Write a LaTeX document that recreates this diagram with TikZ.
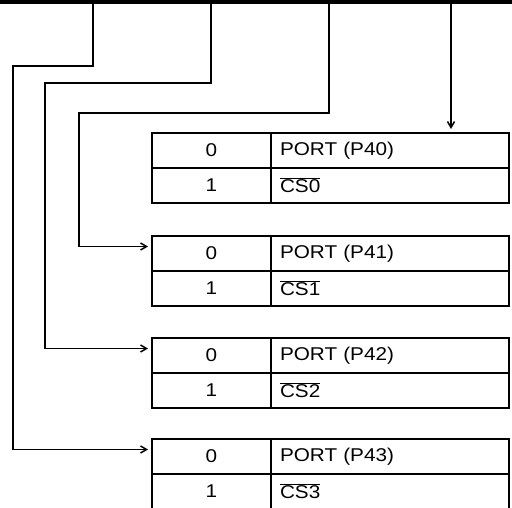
\documentclass[tikz,border=0pt]{standalone}
\usepackage{fontspec}
\setmainfont[FakeStretch=1.12]{Liberation Sans}
\usetikzlibrary{arrows.meta,positioning}

\begin{document}
\begin{tikzpicture}[
  x=1pt, y=-1pt,
  font=\fontsize{18.5}{22}\selectfont,
  numcell/.style={
    draw, line width=2.3pt, outer sep=0pt,
    minimum width=119pt, minimum height=35pt,
    inner sep=0pt},
  sigcell/.style={
    draw, line width=2.3pt, outer sep=0pt,
    minimum width=238pt, minimum height=35pt,
    inner xsep=9pt, inner ysep=0pt,
    text width=220pt, align=left},
  arrow/.style={
    -{Straight Barb[length=6pt,width=7pt]},
    line width=1.5pt, shorten >=4pt}
]
\useasboundingbox (0,0) rectangle (512,507);

% bus bar
\fill (0,0) rectangle (512,4);
\coordinate (t0) at (93,2);
\coordinate (t1) at (211,2);
\coordinate (t2) at (329,2);
\coordinate (t3) at (451,2);

% tables
\foreach \i/\y in {0/133, 1/236, 2/338, 3/439}{
  \node[numcell, anchor=north west] (z\i) at (152,\y) {0};
  \node[numcell, anchor=north] (o\i) at (z\i.south) {1};
  \node[sigcell, anchor=west] (p\i) at (z\i.east) {PORT (P4\i)};
  \node[sigcell, anchor=west] (c\i) at (o\i.east)
    {$\overline{\mbox{CS\i}}$};
}

% connectors
\draw[arrow] (t3) -- (t3 |- z0.north);
\draw[arrow] (t2) |- (79,113) |- ([yshift=7pt]z1.west);
\draw[arrow] (t1) |- (45,83) |- ([yshift=7pt]z2.west);
\draw[arrow] (t0) |- (13,66) |- ([yshift=7pt]z3.west);
\end{tikzpicture}
\end{document}
